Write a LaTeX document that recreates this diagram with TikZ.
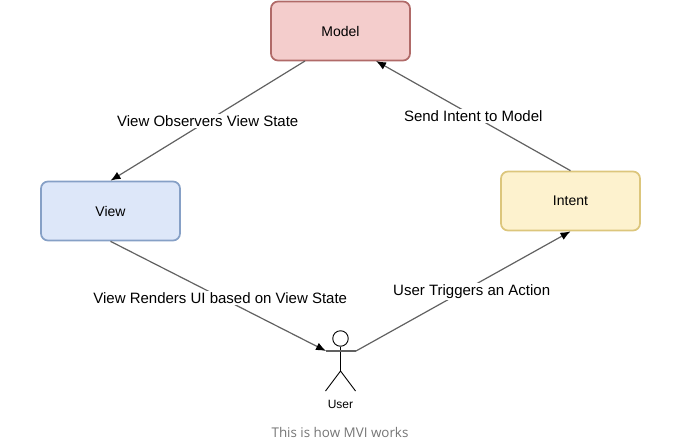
\documentclass[tikz,border=0pt]{standalone}
\usepackage{fontspec}
\setmainfont{Liberation Sans}
\newfontfamily\capfont{Open Sans}
\usetikzlibrary{arrows.meta, positioning}
\definecolor{linegray}{rgb}{0.38,0.38,0.38}
\definecolor{modelfill}{HTML}{F4CDCC}
\definecolor{modeldraw}{HTML}{B06A68}
\definecolor{viewfill}{HTML}{DDE7F9}
\definecolor{viewdraw}{HTML}{86A0C6}
\definecolor{intentfill}{HTML}{FDF2CE}
\definecolor{intentdraw}{HTML}{DCC67C}
\definecolor{capgray}{HTML}{757575}

\begin{document}
\begin{tikzpicture}[x=1pt,y=-1pt,->,>={Latex[length=10pt,width=8pt,black]},line width=1.2pt]
	
	\tikzset{node box/.style={rectangle, rounded corners=7pt,
			minimum width=139pt, minimum height=59pt,
			line width=1.7pt, font=\fontsize{14}{16}\selectfont}}
	\tikzset{node lab/.style={fill=white, inner sep=1.5pt,
			font=\fontsize{15}{17}\selectfont}}
	\tikzset{conn/.style={draw=linegray}}
	\tikzset{stick/.style={-, line width=0.9pt, draw=black}}
	
	\useasboundingbox (0,0) rectangle (680,442);
	
	\node[node box, fill=modelfill, draw=modeldraw] (model) at (340.5,31) {Model};
	\node[node box, fill=viewfill, draw=viewdraw] (view) at (110.5,211) {View};
	\node[node box, fill=intentfill, draw=intentdraw] (intent) at (570.5,201) {Intent};
	
	\coordinate (modelout) at (305,61);
	\coordinate (modelin) at (376,61);
	\coordinate (userin) at (326,351);
	\coordinate (userout) at (356,351);
	
	\draw[conn] (modelout) -- node[node lab, pos=0.5, yshift=-0.5pt] (labobs) {View Observers View State} (view.north);
	\draw[conn] (intent.north) -- node[node lab, pos=0.5] (labsend) {Send Intent to Model} (modelin);
	\draw[conn] (view.south) -- node[node lab, pos=0.5, xshift=2pt, yshift=-2pt] (labrend) {View Renders UI based on View State} (userin);
	\draw[conn] (userout) -- node[node lab, pos=0.53, xshift=2pt, yshift=-4pt] (labtrig) {User Triggers an Action} (intent.south);
	
	% user figure
	\node[circle, draw=black, line width=0.9pt, minimum size=15.5pt, inner sep=0pt] (head) at (340.5,338.5) {};
	\coordinate (hip) at (340.5,371);
	\coordinate (footl) at (325.5,391);
	\coordinate (footr) at (355.5,391);
	\draw[stick] (head.south) -- (hip);
	\draw[stick] (footl) -- (hip) -- (footr);
	\draw[conn, -] (userin) -- (userout);
	
	\node[font=\fontsize{12}{14}\selectfont] (user) at (340.5,404.5) {User};
	\node[font=\capfont\fontsize{13.4}{15}\selectfont, text=capgray] (caption) at (340,432) {This is how MVI works};
	
	\end{tikzpicture}
\end{document}
